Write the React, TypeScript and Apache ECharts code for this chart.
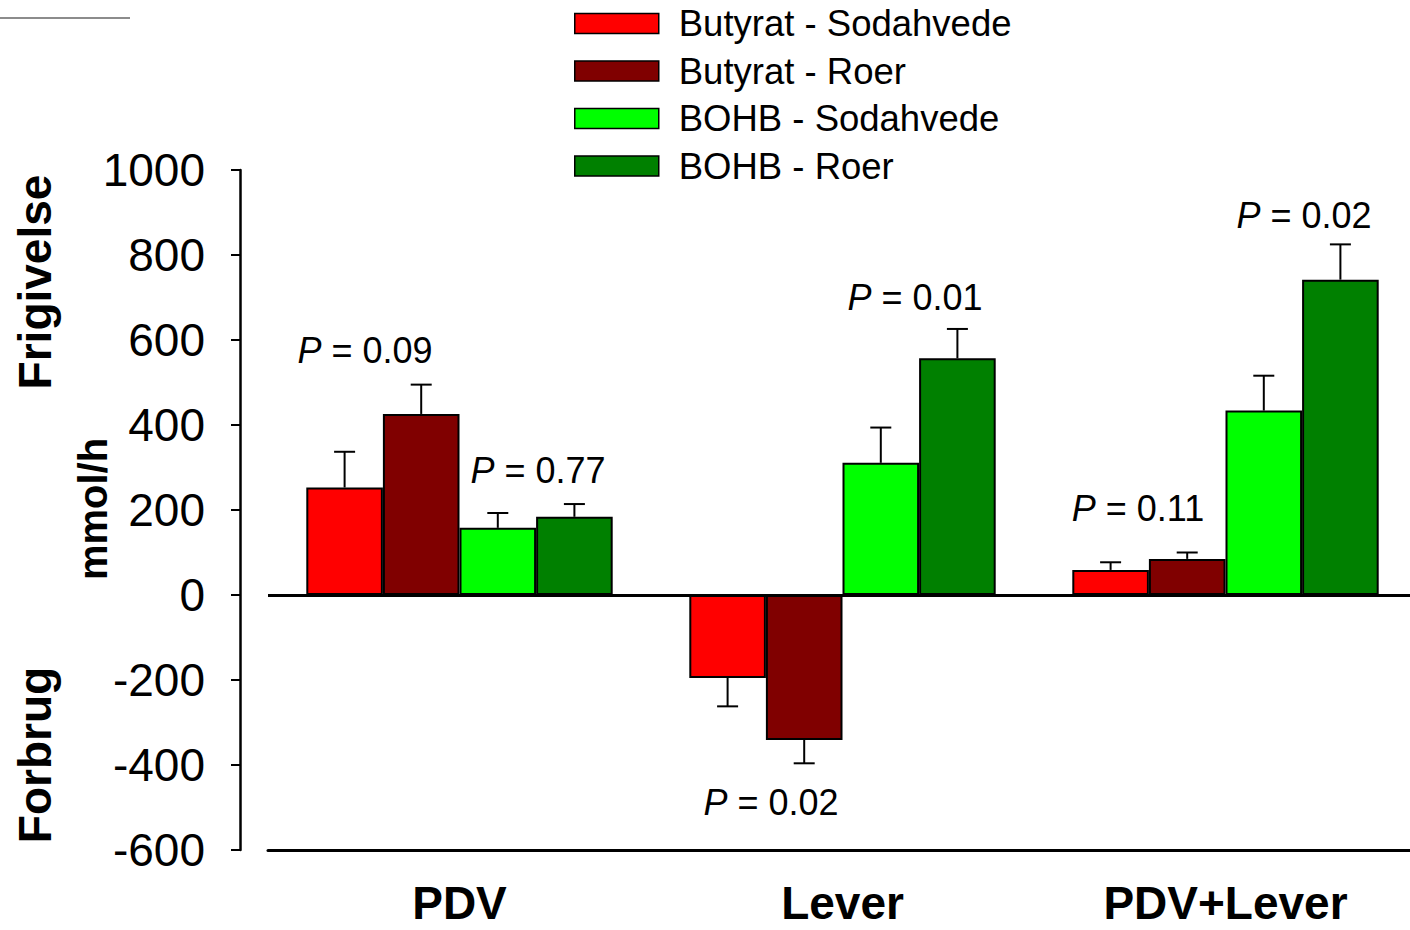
import React, { useEffect, useRef } from "react";
import * as echarts from "echarts";

// Organs / compartments on the x axis
const categories = ["PDV", "Lever", "PDV+Lever"];

// Series names
const seriesNames = [
  "Butyrat - Sodahvede",
  "Butyrat - Roer",
  "BOHB - Sodahvede",
  "BOHB - Roer",
];

// Mean net flux (mmol/h) per series, in category order
const butyratSodahvede = [253, -195, 59];
const butyratRoer = [426, -341, 85];
const bohbSodahvede = [158, 311, 434];
const bohbRoer = [184, 557, 742];

// Standard errors (mmol/h)
const butyratSodahvedeSem = [84, 67, 18];
const butyratRoerSem = [69, 55, 15];
const bohbSodahvedeSem = [35, 83, 82];
const bohbRoerSem = [30, 69, 83];

const seriesColors = ["#ff0000", "#800000", "#00ff00", "#008000"];

// P-value annotations
const pValues = ["0.09", "0.77", "0.01", "0.02", "0.11", "0.02"];
const pPositions: [number, number][] = [
  [365, 350],
  [538, 470],
  [915, 297],
  [771, 802],
  [1138, 508],
  [1304, 215],
];

const FONT = "'Liberation Sans', Arial, Helvetica, sans-serif";

export default function App() {
  const ref = useRef<HTMLDivElement>(null);

  useEffect(() => {
    if (!ref.current) return;
    const chart = echarts.init(ref.current, null, { renderer: "svg" });

    const means = [butyratSodahvede, butyratRoer, bohbSodahvede, bohbRoer];
    const sems = [butyratSodahvedeSem, butyratRoerSem, bohbSodahvedeSem, bohbRoerSem];

    const errorData: number[][] = [];
    means.forEach((arr, s) => {
      arr.forEach((v, i) => {
        const end = v + Math.sign(v) * sems[s][i];
        errorData.push([i, s, v, end]);
      });
    });

    const barSeries: any[] = seriesNames.map((name, s) => ({
      name,
      type: "bar",
      data: means[s],
      barGap: "0%",
      barCategoryGap: "20%",
      itemStyle: { color: seriesColors[s], borderColor: "#000", borderWidth: 2 },
      z: 2,
    }));

    // zero reference line
    barSeries[0].markLine = {
      silent: true,
      symbol: ["none", "none"],
      label: { show: false },
      lineStyle: { color: "#000", width: 3, type: "solid" },
      data: [{ yAxis: 0 }],
      z: 5,
    };

    const errorSeries = {
      type: "custom",
      name: "sem",
      data: errorData,
      encode: { x: 0, y: 3 },
      z: 3,
      renderItem: (params: any, api: any) => {
        const cat = api.value(0);
        const s = api.value(1);
        const v = api.value(2);
        const e = api.value(3);
        const base = api.coord([cat, v]);
        const tip = api.coord([cat, e]);
        const band = api.size([1, 0])[0];
        const bw = (band * 0.8) / 4;
        const x = base[0] + (s - 1.5) * bw;
        return {
          type: "group",
          children: [
            {
              type: "line",
              shape: { x1: x, y1: base[1], x2: x, y2: tip[1] },
              style: { stroke: "#000", lineWidth: 2 },
            },
            {
              type: "line",
              shape: { x1: x - 10.5, y1: tip[1], x2: x + 10.5, y2: tip[1] },
              style: { stroke: "#000", lineWidth: 2 },
            },
          ],
        };
      },
    };

    const pTexts = pValues.map((p, k) => ({
      type: "text",
      x: pPositions[k][0],
      y: pPositions[k][1],
      z: 10,
      style: {
        text: "{i|P} = " + p,
        align: "center",
        verticalAlign: "middle",
        fontSize: 36,
        fontFamily: FONT,
        fill: "#000",
        rich: {
          i: { fontStyle: "italic", fontSize: 36, fontFamily: FONT, fill: "#000" },
        },
      },
    }));

    chart.setOption({
      animation: false,
      backgroundColor: "#fff",
      textStyle: { fontFamily: FONT },
      grid: { left: 268, top: 170, width: 1149, height: 680, containLabel: false },
      legend: {
        data: seriesNames,
        orient: "vertical",
        left: 574,
        top: 5,
        padding: 0,
        itemWidth: 84,
        itemHeight: 20,
        itemGap: 10.5,
        icon: "rect",
        itemStyle: { borderColor: "#000", borderWidth: 1.5 },
        textStyle: {
          fontSize: 36.5,
          lineHeight: 36,
          fontFamily: FONT,
          color: "#000",
          padding: [0, 0, 0, 15],
        },
        selectedMode: false,
      },
      xAxis: {
        type: "category",
        data: categories,
        position: "bottom",
        axisLine: { onZero: false, lineStyle: { color: "#000", width: 3 } },
        axisTick: { alignWithLabel: true, length: 10, lineStyle: { color: "#000", width: 2 } },
        axisLabel: {
          fontSize: 46,
          lineHeight: 36,
          fontWeight: "bold",
          color: "#000",
          margin: 35,
          fontFamily: FONT,
        },
        splitLine: { show: false },
      },
      yAxis: {
        type: "value",
        min: -600,
        max: 1000,
        interval: 200,
        offset: 28,
        axisLine: { show: true, lineStyle: { color: "#000", width: 2.5 } },
        axisTick: { show: true, length: 9, lineStyle: { color: "#000", width: 2 } },
        axisLabel: {
          fontSize: 46,
          color: "#000",
          margin: 35,
          fontFamily: FONT,
          formatter: (v: number) => String(v),
        },
        splitLine: { show: false },
      },
      graphic: [
        {
          type: "line",
          shape: { x1: 0, y1: 18, x2: 130, y2: 18 },
          style: { stroke: "#666", lineWidth: 1.5 },
        },
        {
          type: "text",
          x: 35,
          y: 282,
          rotation: Math.PI / 2,
          style: {
            text: "Frigivelse",
            align: "center",
            verticalAlign: "middle",
            fontSize: 46,
            fontWeight: "bold",
            fontFamily: FONT,
            fill: "#000",
          },
        },
        {
          type: "text",
          x: 93,
          y: 509,
          rotation: Math.PI / 2,
          style: {
            text: "mmol/h",
            align: "center",
            verticalAlign: "middle",
            fontSize: 40,
            fontWeight: "bold",
            fontFamily: FONT,
            fill: "#000",
          },
        },
        {
          type: "text",
          x: 35,
          y: 755,
          rotation: Math.PI / 2,
          style: {
            text: "Forbrug",
            align: "center",
            verticalAlign: "middle",
            fontSize: 46,
            fontWeight: "bold",
            fontFamily: FONT,
            fill: "#000",
          },
        },
        ...pTexts,
      ],
      series: [...barSeries, errorSeries],
    });

    return () => chart.dispose();
  }, []);

  return (
    <div
      style={{
        position: "absolute",
        left: 0,
        top: 0,
        width: 1410,
        height: 930,
        overflow: "hidden",
      }}
    >
      <div ref={ref} style={{ width: 1420, height: 930 }} />
    </div>
  );
}
